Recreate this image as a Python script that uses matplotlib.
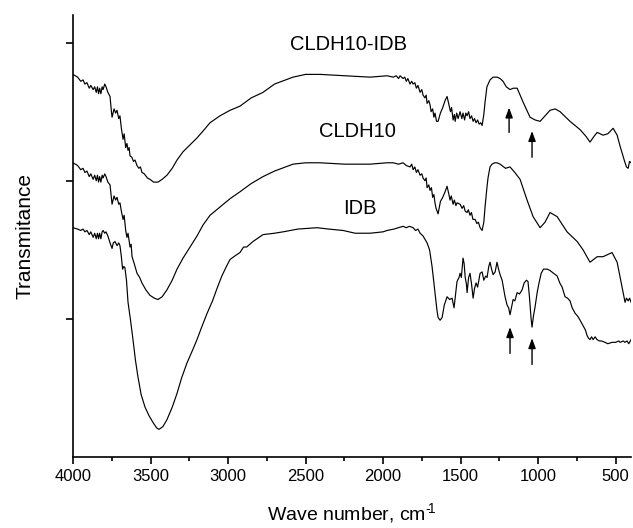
import numpy as np
import matplotlib
matplotlib.use("Agg")
from matplotlib import pyplot as plt

plt.rcParams['font.family'] = ['Liberation Sans', 'DejaVu Sans']
plt.rcParams['mathtext.default'] = 'regular'

# FTIR spectra (wave number cm-1, transmittance a.u., curves offset)
cldh_idb_wn = [4000, 3970, 3950, 3935, 3923, 3910, 3895, 3885, 3870, 3860, 3850, 3842, 3835, 3828, 3820, 3812, 3806, 3795, 3787, 3775,
               3761, 3752, 3748, 3735, 3725, 3716, 3705, 3697, 3688, 3677, 3670, 3660, 3652, 3645, 3638, 3632, 3620, 3610, 3600, 3587,
               3575, 3565, 3555, 3540, 3520, 3503, 3480, 3452, 3425, 3394, 3360, 3329, 3290, 3245, 3200, 3161, 3116, 3052, 2987, 2923,
               2850, 2774, 2700, 2581, 2500, 2406, 2250, 2084, 1974, 1935, 1915, 1900, 1890, 1871, 1860, 1850, 1840, 1826, 1815, 1806,
               1795, 1785, 1775, 1761, 1750, 1742, 1730, 1722, 1716, 1705, 1697, 1690, 1680, 1672, 1665, 1655, 1645, 1630, 1615, 1600,
               1587, 1575, 1565, 1558, 1548, 1540, 1535, 1525, 1516, 1503, 1492, 1484, 1474, 1466, 1458, 1448, 1439, 1429, 1419, 1410,
               1400, 1390, 1380, 1370, 1361, 1350, 1342, 1330, 1310, 1290, 1265, 1245, 1226, 1205, 1181, 1160, 1135, 1097, 1052, 1019,
               987, 955, 923, 890, 858, 794, 729, 690, 665, 640, 619, 581, 550, 516, 490, 471, 439, 430, 419, 410, 400]
cldh_idb_t = [2.77, 2.75, 2.72, 2.73, 2.70, 2.71, 2.67, 2.69, 2.66, 2.68, 2.64, 2.68, 2.63, 2.67, 2.63, 2.68, 2.66, 2.70, 2.68, 2.64,
              2.61, 2.50, 2.46, 2.52, 2.49, 2.51, 2.45, 2.47, 2.38, 2.30, 2.34, 2.24, 2.27, 2.22, 2.24, 2.18, 2.17, 2.14, 2.15, 2.11,
              2.09, 2.10, 2.06, 2.05, 2.02, 2.01, 1.99, 1.99, 2.01, 2.04, 2.09, 2.15, 2.21, 2.26, 2.31, 2.36, 2.42, 2.47, 2.51, 2.54,
              2.60, 2.64, 2.70, 2.75, 2.77, 2.77, 2.76, 2.75, 2.76, 2.75, 2.76, 2.74, 2.76, 2.74, 2.75, 2.72, 2.74, 2.70, 2.72, 2.70,
              2.71, 2.67, 2.69, 2.64, 2.66, 2.62, 2.60, 2.62, 2.56, 2.58, 2.55, 2.50, 2.52, 2.46, 2.49, 2.43, 2.43, 2.49, 2.53, 2.58,
              2.61, 2.55, 2.50, 2.53, 2.44, 2.48, 2.43, 2.49, 2.45, 2.50, 2.45, 2.49, 2.44, 2.49, 2.47, 2.50, 2.45, 2.47, 2.43, 2.45,
              2.42, 2.44, 2.41, 2.42, 2.40, 2.48, 2.57, 2.68, 2.73, 2.75, 2.75, 2.74, 2.72, 2.68, 2.66, 2.67, 2.67, 2.57, 2.46, 2.44,
              2.43, 2.47, 2.51, 2.52, 2.50, 2.43, 2.37, 2.32, 2.28, 2.32, 2.35, 2.33, 2.34, 2.38, 2.33, 2.25, 2.13, 2.10, 2.09, 2.14, 2.13]

cldh_wn = [4000, 3970, 3950, 3935, 3923, 3910, 3895, 3885, 3870, 3860, 3850, 3842, 3835, 3828, 3820, 3812, 3806, 3795, 3787, 3775,
           3761, 3752, 3748, 3735, 3725, 3716, 3705, 3697, 3688, 3677, 3670, 3660, 3652, 3645, 3632, 3625, 3619, 3605, 3587, 3570,
           3555, 3530, 3503, 3475, 3452, 3425, 3394, 3360, 3329, 3290, 3245, 3200, 3161, 3116, 3052, 2987, 2923, 2850, 2774, 2700,
           2581, 2500, 2406, 2250, 2148, 2084, 1974, 1935, 1900, 1871, 1850, 1826, 1815, 1806, 1795, 1785, 1775, 1761, 1750, 1742,
           1730, 1722, 1716, 1705, 1697, 1688, 1680, 1672, 1665, 1658, 1645, 1630, 1615, 1600, 1587, 1575, 1568, 1560, 1548, 1540,
           1530, 1523, 1503, 1490, 1480, 1470, 1458, 1450, 1439, 1430, 1420, 1406, 1395, 1385, 1374, 1361, 1350, 1342, 1330, 1323,
           1310, 1297, 1280, 1265, 1245, 1210, 1181, 1150, 1116, 1071, 1032, 987, 955, 923, 877, 813, 748, 710, 665, 619, 581, 523,
           490, 458, 439, 430, 419, 410, 400]
cldh_t = [2.13, 2.11, 2.08, 2.09, 2.06, 2.07, 2.03, 2.05, 2.01, 2.04, 2.00, 2.04, 1.99, 2.03, 1.99, 2.04, 2.02, 2.05, 2.03, 1.99,
          1.97, 1.87, 1.83, 1.89, 1.86, 1.88, 1.83, 1.84, 1.78, 1.72, 1.75, 1.64, 1.59, 1.62, 1.52, 1.54, 1.45, 1.40, 1.33, 1.30,
          1.26, 1.21, 1.17, 1.15, 1.14, 1.16, 1.21, 1.28, 1.36, 1.44, 1.52, 1.60, 1.68, 1.75, 1.81, 1.87, 1.92, 1.98, 2.03, 2.07,
          2.12, 2.13, 2.13, 2.12, 2.12, 2.12, 2.13, 2.13, 2.12, 2.13, 2.11, 2.10, 2.12, 2.08, 2.10, 2.06, 2.08, 2.04, 2.05, 2.02,
          2.00, 2.02, 1.95, 1.97, 1.93, 1.95, 1.88, 1.90, 1.84, 1.80, 1.76, 1.85, 1.88, 1.92, 1.96, 1.90, 1.86, 1.89, 1.83, 1.86,
          1.82, 1.84, 1.83, 1.80, 1.82, 1.78, 1.77, 1.79, 1.75, 1.77, 1.72, 1.72, 1.69, 1.70, 1.66, 1.64, 1.70, 1.81, 1.95, 2.02,
          2.10, 2.12, 2.13, 2.13, 2.12, 2.09, 2.10, 2.06, 2.01, 1.86, 1.74, 1.66, 1.70, 1.77, 1.74, 1.63, 1.56, 1.50, 1.41, 1.45, 1.45, 1.48,
          1.41, 1.23, 1.12, 1.15, 1.13, 1.15, 1.12]

idb_wn = [4000, 3970, 3950, 3935, 3923, 3910, 3895, 3885, 3870, 3860, 3850, 3842, 3835, 3828, 3820, 3812, 3806, 3795, 3787, 3775,
          3761, 3748, 3740, 3729, 3716, 3705, 3697, 3688, 3680, 3672, 3665, 3655, 3645, 3630, 3613, 3597, 3581, 3560, 3535, 3510,
          3484, 3460, 3445, 3420, 3394, 3360, 3329, 3300, 3265, 3230, 3200, 3170, 3135, 3100, 3071, 3040, 3010, 2987, 2950, 2923,
          2900, 2880, 2839, 2800, 2774, 2700, 2645, 2550, 2426, 2350, 2258, 2180, 2129, 2084, 2000, 1974, 1930, 1900, 1871, 1850,
          1830, 1806, 1790, 1775, 1761, 1742, 1716, 1700, 1684, 1665, 1652, 1645, 1632, 1619, 1605, 1587, 1570, 1555, 1542, 1530,
          1523, 1510, 1503, 1495, 1484, 1477, 1470, 1462, 1458, 1448, 1439, 1429, 1419, 1410, 1400, 1390, 1374, 1361, 1350, 1338,
          1329, 1318, 1310, 1300, 1290, 1277, 1265, 1255, 1245, 1232, 1213, 1200, 1190, 1181, 1170, 1161, 1150, 1135, 1120, 1103,
          1090, 1075, 1065, 1055, 1045, 1039, 1030, 1019, 1006, 994, 980, 965, 940, 923, 900, 877, 860, 845, 826, 810, 794, 780,
          761, 745, 729, 710, 695, 684, 675, 665, 655, 645, 632, 620, 605, 590, 568, 550, 523, 500, 480, 471, 450, 440, 426, 415, 400]
idb_t = [1.66, 1.65, 1.64, 1.65, 1.63, 1.64, 1.61, 1.63, 1.59, 1.62, 1.58, 1.62, 1.58, 1.62, 1.58, 1.63, 1.64, 1.62, 1.63, 1.60,
         1.55, 1.51, 1.55, 1.56, 1.53, 1.55, 1.53, 1.45, 1.36, 1.38, 1.37, 1.28, 1.12, 1.00, 0.85, 0.70, 0.58, 0.45, 0.36, 0.30,
         0.25, 0.21, 0.20, 0.22, 0.27, 0.36, 0.46, 0.57, 0.68, 0.77, 0.85, 0.94, 1.04, 1.13, 1.22, 1.31, 1.38, 1.43, 1.46, 1.48,
         1.52, 1.52, 1.56, 1.59, 1.61, 1.62, 1.63, 1.65, 1.66, 1.65, 1.64, 1.62, 1.62, 1.62, 1.63, 1.64, 1.65, 1.66, 1.67, 1.66,
         1.67, 1.66, 1.64, 1.65, 1.62, 1.60, 1.55, 1.50, 1.38, 1.19, 1.06, 1.01, 0.99, 1.01, 1.10, 1.16, 1.14, 1.15, 1.08, 1.20,
         1.27, 1.30, 1.33, 1.30, 1.44, 1.40, 1.30, 1.25, 1.19, 1.30, 1.33, 1.25, 1.15, 1.22, 1.26, 1.23, 1.33, 1.34, 1.28, 1.31,
         1.30, 1.38, 1.41, 1.36, 1.32, 1.34, 1.41, 1.36, 1.32, 1.28, 1.16, 1.10, 1.08, 1.03, 1.09, 1.14, 1.13, 1.19, 1.18, 1.21,
         1.26, 1.28, 1.27, 1.15, 1.00, 0.94, 1.02, 1.09, 1.19, 1.26, 1.33, 1.36, 1.36, 1.35, 1.33, 1.31, 1.26, 1.23, 1.16, 1.15, 1.13, 1.08,
         1.04, 1.02, 0.99, 0.95, 0.92, 0.88, 0.86, 0.85, 0.87, 0.85, 0.87, 0.85, 0.84, 0.84, 0.83, 0.82, 0.83, 0.83, 0.84, 0.83, 0.84, 0.83, 0.84, 0.82, 0.85]

curve_names = ["CLDH10-IDB", "CLDH10", "IDB"]
name_wn = [2226, 2168, 2148]
name_t = [2.99, 2.36, 1.80]

# band markers: wave number, arrow tail, arrow head
arrow_wn = [1187, 1039, 1181, 1039]
arrow_tail = [2.35, 2.17, 0.75, 0.67]
arrow_head = [2.53, 2.36, 0.94, 0.86]

fig = plt.figure(figsize=(6.33, 5.28), dpi=100)
ax = fig.add_axes([0.1153, 0.1345, 0.8817, 0.8371])

for wn, t in [(cldh_idb_wn, cldh_idb_t), (cldh_wn, cldh_t), (idb_wn, idb_t)]:
    ax.plot(wn, t, color="black", lw=0.85)

for name, x, y in zip(curve_names, name_wn, name_t):
    ax.text(x, y, name, fontsize=14.5, ha="center", va="center")

for x, y0, y1 in zip(arrow_wn, arrow_tail, arrow_head):
    ax.annotate("", xy=(x, y1), xytext=(x, y0),
                arrowprops=dict(arrowstyle="-|>,head_length=0.6,head_width=0.22", color="black", lw=1.0, shrinkA=0, shrinkB=0))

ax.set_xlim(4000, 400)
ax.set_ylim(0, 3.2)
ax.set_xticks([4000, 3500, 3000, 2500, 2000, 1500, 1000, 500])
ax.set_xticks(np.arange(3750, 400, -500), minor=True)
ax.set_yticks([1, 2, 3])
ax.set_yticklabels([])
ax.spines["top"].set_visible(False)
ax.spines["right"].set_visible(False)
for s in ["left", "bottom"]:
    ax.spines[s].set_linewidth(1.2)
ax.tick_params(axis="both", which="major", direction="out", length=5, width=1.2, labelsize=12, pad=4)
ax.tick_params(axis="x", which="minor", direction="out", length=3, width=1.2)

ax.set_xlabel("Wave number, cm$^{\u2010\\!1}$", fontsize=14, labelpad=12)
ax.set_ylabel("Transmitance", fontsize=15, labelpad=19)

fig.savefig("out.png", dpi=100)
